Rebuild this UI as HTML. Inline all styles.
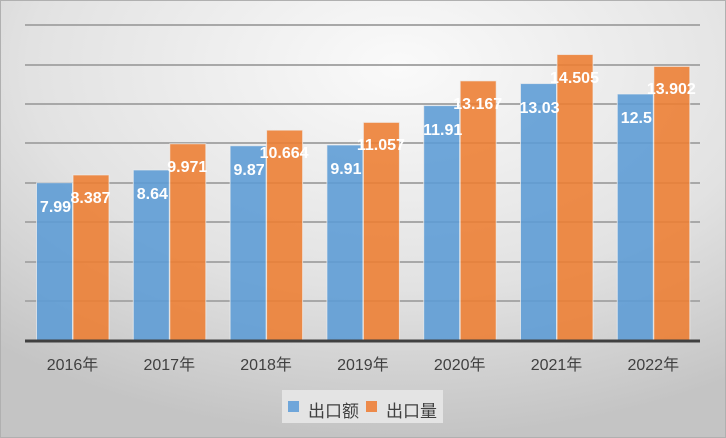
<!DOCTYPE html><html><head><meta charset="utf-8"><style>body{margin:0}svg{display:block}</style></head><body>
<svg width="726" height="438" xmlns="http://www.w3.org/2000/svg" font-family="Liberation Sans, Noto Sans CJK SC, sans-serif">
<defs><radialGradient id="bg" cx="0.55" cy="0.15" r="0.85"><stop offset="0" stop-color="#fafafa"/><stop offset="0.6" stop-color="#e2e2e2"/><stop offset="1" stop-color="#c4c4c4"/></radialGradient></defs>
<rect x="0.5" y="0.5" width="725" height="437" fill="url(#bg)" stroke="#b0b0b0"/>
<g stroke="#a8a8a8" stroke-width="2">
<line x1="25" x2="700" y1="25" y2="25"/><line x1="25" x2="700" y1="65" y2="65"/><line x1="25" x2="700" y1="104" y2="104"/><line x1="25" x2="700" y1="143" y2="143"/><line x1="25" x2="700" y1="183" y2="183"/><line x1="25" x2="700" y1="222" y2="222"/><line x1="25" x2="700" y1="262" y2="262"/><line x1="25" x2="700" y1="301" y2="301"/></g>
<g fill="#5b9bd5" fill-opacity="0.88" stroke="#f0f0f0" stroke-opacity="0.7">
<rect x="36.5" y="182.76" width="36" height="157.24"/>
<rect x="133.3" y="169.96" width="36" height="170.04"/>
<rect x="230.1" y="145.76" width="36" height="194.24"/>
<rect x="326.9" y="144.97" width="36" height="195.03"/>
<rect x="423.7" y="105.61" width="36" height="234.39"/>
<rect x="520.5" y="83.57" width="36" height="256.43"/>
<rect x="617.3" y="94" width="36" height="246"/>
</g>
<g fill="#ed7d31" fill-opacity="0.88" stroke="#f0f0f0" stroke-opacity="0.7">
<rect x="73" y="174.94" width="36" height="165.06"/>
<rect x="169.8" y="143.77" width="36" height="196.23"/>
<rect x="266.6" y="130.13" width="36" height="209.87"/>
<rect x="363.4" y="122.4" width="36" height="217.6"/>
<rect x="460.2" y="80.87" width="36" height="259.13"/>
<rect x="557" y="54.54" width="36" height="285.46"/>
<rect x="653.8" y="66.41" width="36" height="273.59"/>
</g>
<g fill="#fff" font-size="16" font-weight="bold" text-anchor="middle">
<text x="55.5" y="212">7.99</text>
<text x="152.3" y="199">8.64</text>
<text x="249.1" y="175">9.87</text>
<text x="345.9" y="174">9.91</text>
<text x="442.7" y="135">11.91</text>
<text x="539.5" y="113">13.03</text>
<text x="636.3" y="123">12.5</text>
<text x="90.5" y="203">8.387</text>
<text x="187.3" y="172">9.971</text>
<text x="284.1" y="158">10.664</text>
<text x="380.9" y="150">11.057</text>
<text x="477.7" y="109">13.167</text>
<text x="574.5" y="83">14.505</text>
<text x="671.3" y="94">13.902</text>
</g>
<line x1="25" x2="700" y1="341" y2="341" stroke="#404040" stroke-width="3"/>
<g font-size="16" fill="#404040" text-anchor="middle">
<text x="72.5" y="370">2016年</text>
<text x="169.3" y="370">2017年</text>
<text x="266.1" y="370">2018年</text>
<text x="362.9" y="370">2019年</text>
<text x="459.7" y="370">2020年</text>
<text x="556.5" y="370">2021年</text>
<text x="653.3" y="370">2022年</text>
</g>
<rect x="282" y="390" width="161" height="33" fill="#e4e4e4"/>
<rect x="288" y="401" width="11" height="11" fill="#6fa6da"/>
<text x="308" y="417" font-size="17" fill="#404040">出口额</text>
<rect x="366" y="401" width="11" height="11" fill="#ed8a4a"/>
<text x="386" y="417" font-size="17" fill="#404040">出口量</text>
</svg></body></html>
